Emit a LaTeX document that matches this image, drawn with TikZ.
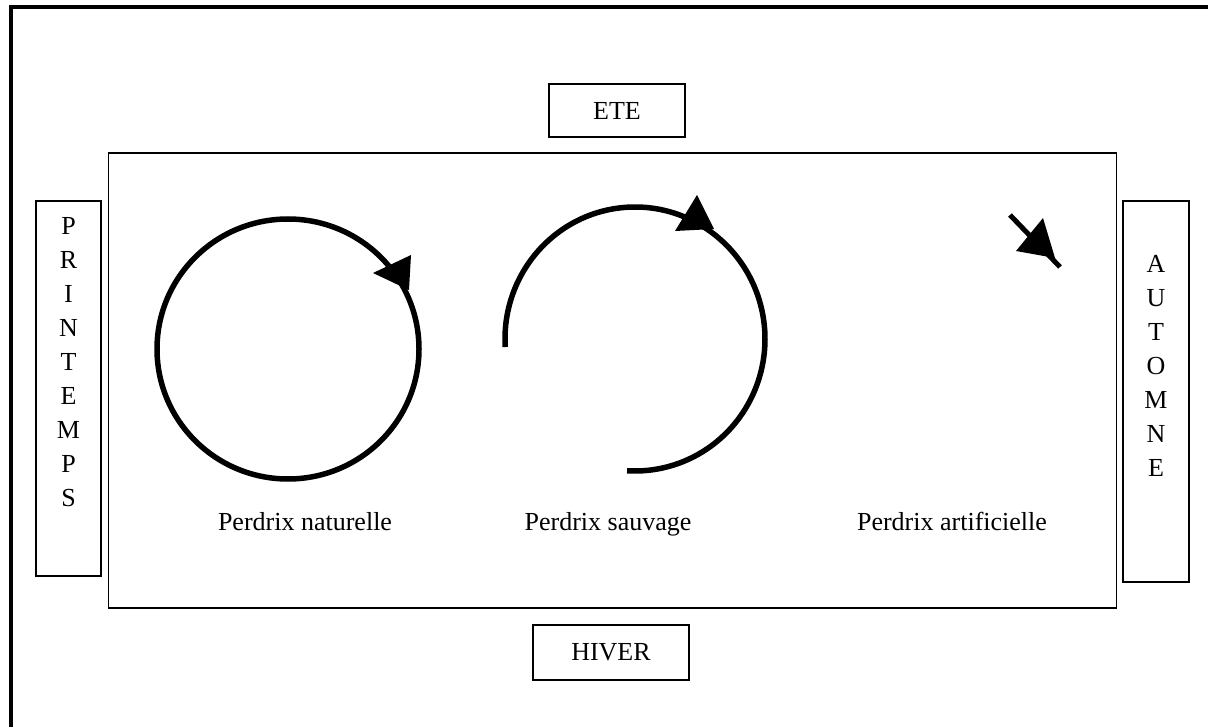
\documentclass[tikz,border=0pt]{standalone}
\usepackage{fontspec}
\setmainfont{Liberation Serif}
\begin{document}
\begin{tikzpicture}[x=1pt,y=1pt,
  box/.style={draw, line width=1.8pt, inner sep=0pt},
  lbl/.style={font=\fontsize{26}{30}\selectfont, inner sep=0pt},
  vert/.style={font=\fontsize{26}{34}\selectfont, align=center, inner sep=0pt},
  cyc/.style={line width=5.5pt},
  head/.style={fill=black, draw=none}]
\useasboundingbox (0,0) rectangle (1208,-727);
\fill[white] (0,0) rectangle (1208,-727);
% outer frame (cut by the page)
\draw[line width=4.8pt] (1208,-7) -- (11,-7) -- (11,-727);
% main rectangle
\node[box, minimum width=1008pt, minimum height=455pt] (main) at (612.5,-380.5) {};
% season boxes
\node[box, minimum width=136pt, minimum height=53pt, lbl] (ete) at (617,-110.5) {ETE};
\node[box, minimum width=156pt, minimum height=55pt, lbl] (hiver) at (611,-652.5) {HIVER};
\node[box, minimum width=65pt, minimum height=375pt] (printemps) at (68.5,-388.5) {};
\node[box, minimum width=66pt, minimum height=381pt] (automne) at (1156,-391.5) {};
\node[vert] (ptext) at (68.5,-362) {P\\R\\I\\N\\T\\E\\M\\P\\S};
\node[vert] (atext) at (1156,-366) {A\\U\\T\\O\\M\\N\\E};
% labels
\node[lbl, anchor=base] (nat) at (305,-530) {Perdrix naturelle};
\node[lbl, anchor=base] (sau) at (608,-530) {Perdrix sauvage};
\node[lbl, anchor=base] (art) at (952,-530) {Perdrix artificielle};
% cycle 1 : full circle
\coordinate (c1) at (288,-349);
\draw[cyc] (c1) circle[x radius=131, y radius=130];
\fill[head] (373,-273) -- (411,-255) -- (409,-290) -- cycle;
% cycle 2 : open arc
\coordinate (c2) at (635,-339);
\draw[cyc] ([shift={(183.5:130 and 132)}]c2) arc[start angle=183.5, end angle=-93.5, x radius=130, y radius=132];
\fill[head] (697,-195) -- (675,-231) -- (714,-229) -- cycle;
% cycle 3 : short arrow
\coordinate (s3) at (1010,-215);
\coordinate (e3) at (1060,-267);
\draw[line width=5pt] (s3) -- (e3);
\fill[head] (1016,-251) -- (1043,-218) -- (1055,-258) -- cycle;
\end{tikzpicture}
\end{document}
